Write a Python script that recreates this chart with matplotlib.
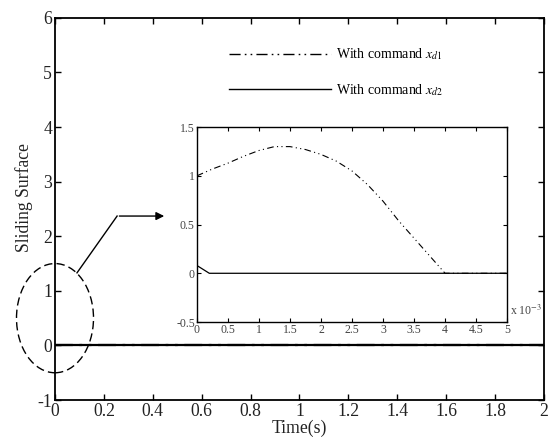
import matplotlib
matplotlib.use("Agg")
import matplotlib.pyplot as plt
from matplotlib.patches import Ellipse

plt.rcParams['font.family'] = ['Liberation Serif', 'DejaVu Serif']
plt.rcParams['mathtext.fontset'] = 'stix'
plt.rcParams['axes.unicode_minus'] = False

# sliding surface, command x_d1 (time in ms for the zoomed view)
t_d1 = [0, 0.25, 0.5, 0.75, 1.0, 1.25, 1.5, 1.75, 2.0, 2.25, 2.5, 2.75, 3.0, 3.25, 3.5, 3.75, 4.0, 5.0]
s_d1 = [1.00, 1.07, 1.13, 1.20, 1.26, 1.30, 1.30, 1.27, 1.22, 1.15, 1.05, 0.91, 0.74, 0.54, 0.36, 0.18, 0.0, 0.0]

# sliding surface, command x_d2
t_d2 = [0, 0.2, 5.0]
s_d2 = [0.08, 0.0, 0.0]

# whole run (s)
t_full = [0, 2.0]
s_full = [0, 0]

TXT = '#222222'
DD = (0, (8, 3, 1.2, 3, 1.2, 3))

fig = plt.figure(figsize=(5.5, 4.46), dpi=100)
ax = fig.add_axes([0.1, 0.103, 0.889, 0.857])

ax.plot(t_full, s_full, color='k', lw=1.6, label='With command $x_{d1}$', linestyle=DD)
ax.plot(t_full, s_full, color='k', lw=1.6, label='With command $x_{d2}$')
ax.set_xlim(0, 2)
ax.set_ylim(-1, 6)
ax.set_xticks([0, 0.2, 0.4, 0.6, 0.8, 1, 1.2, 1.4, 1.6, 1.8, 2])
ax.set_xticklabels(['0', '0.2', '0.4', '0.6', '0.8', '1', '1.2', '1.4', '1.6', '1.8', '2'])
ax.set_yticks(range(-1, 7))
ax.tick_params(direction='in', top=True, right=True, length=4, width=1,
               labelsize=12.7, labelcolor=TXT, pad=2)
for sp in ax.spines.values():
    sp.set_linewidth(1.3)
ax.set_xlabel('Time(s)', fontsize=12.7, color=TXT, labelpad=0)
ax.set_ylabel('Sliding Surface', fontsize=12.7, color=TXT)
ax.yaxis.set_label_coords(-0.045, 0.53)

leg = ax.legend(loc='upper left', bbox_to_anchor=(0.355, 0.925), frameon=False,
                fontsize=10, handlelength=7.4, handletextpad=0.35, labelspacing=1.4,
                borderpad=0, borderaxespad=0)
for h in leg.get_lines():
    h.set_linewidth(1.0)

# dashed ellipse around the start and the arrow to the zoomed view
ax.add_patch(Ellipse((0, 0.5), 0.315, 2.0, fill=False, ls=(0, (6, 3)), lw=1.0,
                     color='k', clip_on=False))
ax.plot([0.09, 0.254], [1.33, 2.37], color='k', lw=1.0)
ax.annotate('', xy=(0.458, 2.37), xytext=(0.252, 2.37),
            arrowprops=dict(arrowstyle='-|>', color='k', lw=1.0, mutation_scale=12))

# zoomed view
ins = fig.add_axes([0.358, 0.278, 0.564, 0.437])
ins.plot(t_d1, s_d1, color='k', lw=0.8, linestyle=(0, (6, 3, 1, 3, 1, 3)))
ins.plot(t_d2, s_d2, color='k', lw=0.9)
ins.set_xlim(0, 5)
ins.set_ylim(-0.5, 1.5)
ins.set_xticks([0, 0.5, 1, 1.5, 2, 2.5, 3, 3.5, 4, 4.5, 5])
ins.set_xticklabels(['0', '0.5', '1', '1.5', '2', '2.5', '3', '3.5', '4', '4.5', '5'])
ins.set_yticks([-0.5, 0, 0.5, 1, 1.5])
ins.set_yticklabels(['-0.5', '0', '0.5', '1', '1.5'])
ins.tick_params(direction='in', top=True, right=True, length=3, width=0.8,
                labelsize=8.5, labelcolor='#444444', pad=1.5)
for sp in ins.spines.values():
    sp.set_linewidth(1.0)
ins.text(1.01, 0.02, 'x 10$^{-3}$', transform=ins.transAxes, fontsize=8.5,
         color='#444444', ha='left', va='bottom')

fig.savefig('out.png', dpi=100)
